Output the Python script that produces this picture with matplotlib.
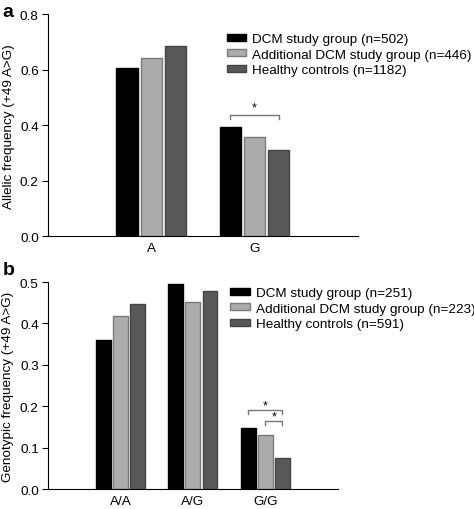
import numpy as np
import matplotlib.pyplot as plt

plt.rcParams['font.family'] = ['Liberation Sans', 'DejaVu Sans']

series_colors = ["#000000", "#acacac", "#585858"]
edge_colors = ["#000000", "#7a7a7a", "#444444"]

allele_cats = ["A", "G"]
allele_labels = ["DCM study group (n=502)", "Additional DCM study group (n=446)", "Healthy controls (n=1182)"]
allele_vals = [
    [0.605, 0.395],
    [0.643, 0.356],
    [0.685, 0.311],
]

geno_cats = ["A/A", "A/G", "G/G"]
geno_labels = ["DCM study group (n=251)", "Additional DCM study group (n=223)", "Healthy controls (n=591)"]
geno_vals = [
    [0.359, 0.495, 0.147],
    [0.417, 0.453, 0.130],
    [0.447, 0.479, 0.074],
]

fs = 9.7
bar_w = 0.205
step = 0.235

fig = plt.figure(figsize=(4.74, 5.10), dpi=100)
ax1 = fig.add_axes([0.101, 0.535, 0.654, 0.435])
ax2 = fig.add_axes([0.101, 0.039, 0.612, 0.406])


def draw(ax, cats, vals, labels):
    x = np.arange(len(cats))
    for i, v in enumerate(vals):
        ax.bar(x + (i - 1) * step, v, width=bar_w, color=series_colors[i],
               edgecolor=edge_colors[i], linewidth=1.0, label=labels[i])
    ax.set_xticks(x)
    ax.set_xticklabels(cats, fontsize=fs)
    ax.set_xlim(-1, len(cats))
    ax.spines["top"].set_visible(False)
    ax.spines["right"].set_visible(False)
    ax.tick_params(axis="x", length=0, pad=4)
    ax.tick_params(axis="y", labelsize=fs, length=4, width=0.8, pad=2.5)
    for s in ("left", "bottom"):
        ax.spines[s].set_linewidth(0.8)


def bracket(ax, x0, x1, y, drop, gap):
    ax.plot([x0, x0, x1, x1], [y - drop, y, y, y - drop], color="#777777", lw=1.0, clip_on=False)
    ax.annotate("*", ((x0 + x1) / 2, y), xytext=(0, gap), textcoords="offset pixels",
                ha="center", va="center", fontsize=9)


def legend(ax, x, y):
    ax.legend(loc="upper left", bbox_to_anchor=(x, y), frameon=False, fontsize=fs,
              handlelength=1.45, handleheight=0.45, handletextpad=0.45, labelspacing=0.27,
              borderaxespad=0, borderpad=0)


draw(ax1, allele_cats, allele_vals, allele_labels)
ax1.set_ylim(0, 0.8)
ax1.set_yticks([0.0, 0.2, 0.4, 0.6, 0.8])
ax1.set_ylabel("Allelic frequency (+49 A>G)", fontsize=fs)
ax1.yaxis.set_label_coords(-0.106, 0.5)
bracket(ax1, 1 - step, 1 + step, 0.438, 0.016, 7)
legend(ax1, 0.577, 0.916)

draw(ax2, geno_cats, geno_vals, geno_labels)
ax2.set_ylim(0, 0.5)
ax2.set_yticks([0.0, 0.1, 0.2, 0.3, 0.4, 0.5])
ax2.set_ylabel("Genotypic frequency (+49 A>G)", fontsize=fs)
ax2.yaxis.set_label_coords(-0.117, 0.5)
bracket(ax2, 2 - step, 2 + step, 0.191, 0.009, 5)
bracket(ax2, 2, 2 + step, 0.165, 0.009, 4)
legend(ax2, 0.628, 0.976)

fig.text(0.006, 0.975, "a", fontsize=14, fontweight="bold", ha="left", va="center")
fig.text(0.006, 0.469, "b", fontsize=14, fontweight="bold", ha="left", va="center")

fig.savefig("out.png", dpi=100)
